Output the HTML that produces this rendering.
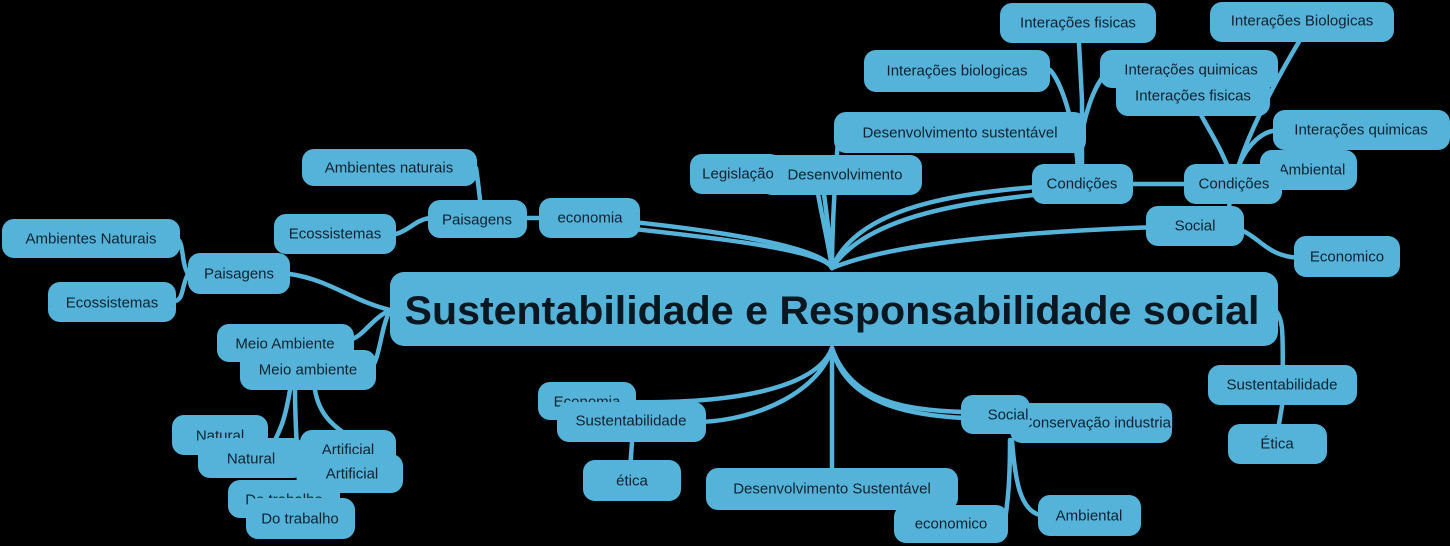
<!DOCTYPE html>
<html><head><meta charset="utf-8"><style>
html,body{margin:0;padding:0;background:#000;}
svg{display:block}
text{font-family:"Liberation Sans","DejaVu Sans",sans-serif;font-size:15px;fill:#10222f;text-anchor:middle;dominant-baseline:central}
rect{fill:#55b3da}
path{fill:none;stroke:#55b3da;stroke-width:4.5;stroke-linecap:round}
</style></head><body>
<svg width="1450" height="546" viewBox="0 0 1450 546" xmlns="http://www.w3.org/2000/svg">
<path d="M832,268 C820,240 640,222 590,218"/>
<path d="M832,268 C820,245 650,232 600,225"/>
<path d="M832,268 C828,240 818,200 815,175"/>
<path d="M832,268 C830,240 825,200 822,180"/>
<path d="M832,268 C832,230 835,180 838,140"/>
<path d="M832,268 C860,200 980,190 1080,184"/>
<path d="M832,268 C870,210 990,200 1060,192"/>
<path d="M832,268 C900,240 1050,230 1190,226"/>
<path d="M1082,184 L1082,100 L1078,25"/>
<path d="M1078,170 C1075,120 1060,80 1050,70"/>
<path d="M1078,170 C1080,120 1095,80 1110,70"/>
<path d="M1130,184 L1190,184"/>
<path d="M1234,184 C1240,150 1270,90 1300,40"/>
<path d="M1234,184 C1220,140 1200,120 1195,100"/>
<path d="M1234,184 C1240,150 1260,130 1280,130"/>
<path d="M1230,200 L1225,240"/>
<path d="M1225,226 C1260,230 1260,256 1300,258"/>
<path d="M482,218 C480,200 478,180 476,168"/>
<path d="M396,234 C410,230 415,220 430,218"/>
<path d="M527,218 L540,218"/>
<path d="M390,310 C350,300 330,280 290,274"/>
<path d="M390,310 C370,320 365,335 350,340"/>
<path d="M390,310 C380,330 380,360 370,370"/>
<path d="M188,274 C180,260 185,240 175,238"/>
<path d="M188,274 C180,290 185,300 172,302"/>
<path d="M290,390 C285,420 280,430 275,440"/>
<path d="M295,390 C295,430 298,460 300,500"/>
<path d="M315,390 C320,420 340,430 355,440"/>
<path d="M832,348 C820,380 760,405 620,402"/>
<path d="M832,348 C820,390 760,420 700,422"/>
<path d="M832,348 L832,470"/>
<path d="M832,348 C845,400 900,415 965,418"/>
<path d="M832,348 C850,400 900,410 965,412"/>
<path d="M1010,440 C1010,480 1008,500 1005,520"/>
<path d="M1012,440 C1015,480 1020,510 1040,515"/>
<path d="M632,442 L630,470"/>
<path d="M1275,310 C1285,320 1282,340 1283,380"/>
<path d="M1283,400 L1278,430"/>
<rect x="302" y="149" width="175" height="37" rx="12"/><text x="389" y="168">Ambientes naturais</text>
<rect x="274" y="214" width="122" height="40" rx="12"/><text x="335" y="234">Ecossistemas</text>
<rect x="428" y="200" width="99" height="38" rx="12"/><text x="477" y="220">Paisagens</text>
<rect x="539" y="198" width="101" height="40" rx="12"/><text x="590" y="218">economia</text>
<rect x="2" y="219" width="178" height="39" rx="12"/><text x="91" y="239">Ambientes Naturais</text>
<rect x="48" y="282" width="128" height="40" rx="12"/><text x="112" y="303">Ecossistemas</text>
<rect x="188" y="253" width="102" height="41" rx="12"/><text x="239" y="274">Paisagens</text>
<rect x="217" y="324" width="137" height="38" rx="12"/><text x="285" y="344">Meio Ambiente</text>
<rect x="240" y="350" width="136" height="40" rx="12"/><text x="308" y="370">Meio ambiente</text>
<rect x="172" y="415" width="96" height="40" rx="12"/><text x="220" y="436">Natural</text>
<rect x="300" y="430" width="96" height="36" rx="12"/><text x="348" y="450">Artificial</text>
<rect x="198" y="438" width="107" height="40" rx="12"/><text x="251" y="459">Natural</text>
<rect x="300" y="454" width="103" height="39" rx="12"/><text x="352" y="474">Artificial</text>
<rect x="228" y="480" width="112" height="38" rx="12"/><text x="284" y="500">Do trabalho</text>
<rect x="246" y="498" width="109" height="41" rx="12"/><text x="300" y="519">Do trabalho</text>
<rect x="538" y="382" width="98" height="38" rx="12"/><text x="587" y="402">Economia</text>
<rect x="557" y="402" width="149" height="40" rx="12"/><text x="631" y="421">Sustentabilidade</text>
<rect x="583" y="460" width="98" height="41" rx="12"/><text x="632" y="481">ética</text>
<rect x="706" y="468" width="252" height="42" rx="12"/><text x="832" y="489">Desenvolvimento Sustentável</text>
<rect x="894" y="505" width="114" height="38" rx="12"/><text x="951" y="524">economico</text>
<rect x="1038" y="495" width="103" height="41" rx="12"/><text x="1089" y="516">Ambiental</text>
<rect x="1010" y="403" width="162" height="40" rx="12"/><text x="1098" y="423">Conservação industrial</text>
<rect x="961" y="395" width="69" height="39" rx="12"/><text x="1008" y="415">Social</text>
<rect x="1208" y="365" width="149" height="40" rx="12"/><text x="1282" y="385">Sustentabilidade</text>
<rect x="1228" y="424" width="99" height="40" rx="12"/><text x="1277" y="444">Ética</text>
<rect x="1000" y="3" width="156" height="40" rx="12"/><text x="1078" y="23">Interações fisicas</text>
<rect x="864" y="50" width="186" height="42" rx="12"/><text x="957" y="71">Interações biologicas</text>
<rect x="1210" y="2" width="184" height="40" rx="12"/><text x="1302" y="21">Interações Biologicas</text>
<rect x="1100" y="50" width="178" height="38" rx="12"/><text x="1191" y="70">Interações quimicas</text>
<rect x="1116" y="77" width="154" height="39" rx="12"/><text x="1193" y="96">Interações fisicas</text>
<rect x="834" y="112" width="252" height="41" rx="12"/><text x="960" y="133">Desenvolvimento sustentável</text>
<rect x="1273" y="110" width="177" height="40" rx="12"/><text x="1361" y="130">Interações quimicas</text>
<rect x="760" y="155" width="162" height="40" rx="12"/><text x="845" y="175">Desenvolvimento</text>
<rect x="690" y="154" width="92" height="40" rx="12"/><text x="738" y="174">Legislação</text>
<rect x="1032" y="164" width="101" height="40" rx="12"/><text x="1082" y="184">Condições</text>
<rect x="1260" y="150" width="97" height="40" rx="12"/><text x="1312" y="170">Ambiental</text>
<rect x="1184" y="164" width="98" height="40" rx="12"/><text x="1234" y="184">Condições</text>
<rect x="1146" y="206" width="98" height="40" rx="12"/><text x="1195" y="226">Social</text>
<rect x="1294" y="236" width="106" height="41" rx="12"/><text x="1347" y="257">Economico</text>
<rect x="390" y="272" width="888" height="74" rx="14"/>
<text x="832" y="311" style="font-size:40px;font-weight:bold;fill:#0a1620" textLength="855" lengthAdjust="spacingAndGlyphs">Sustentabilidade e Responsabilidade social</text>
</svg>
</body></html>
